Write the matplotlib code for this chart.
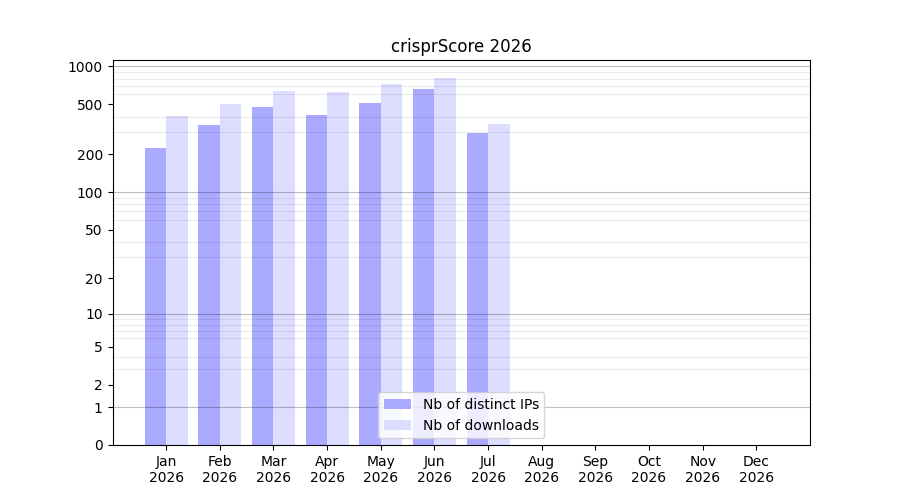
import numpy as np
import matplotlib
matplotlib.use("Agg")
import matplotlib.pyplot as plt
from matplotlib.ticker import FixedLocator, NullFormatter

months = ["Jan", "Feb", "Mar", "Apr", "May", "Jun", "Jul", "Aug", "Sep", "Oct", "Nov", "Dec"]
year = "2026"
distinct_ips = [224, 341, 474, 410, 510, 659, 295]
downloads = [403, 501, 635, 623, 721, 805, 347]
title = "crisprScore 2026"

fig, ax = plt.subplots(figsize=(9, 5), dpi=100)
ax.set_yscale("function", functions=(lambda v: np.log10(1 + np.clip(v, 0, None)),
                                     lambda v: 10 ** v - 1))

x = np.arange(len(distinct_ips))
w = 0.4
ax.bar(x - w / 2, distinct_ips, width=w, color="#aaaaff", label="Nb of distinct IPs")
ax.bar(x + w / 2, downloads, width=w, color="#ddddff", label="Nb of downloads")

ax.set_xlim(-1, 12)
ax.set_xticks(np.arange(12))
ax.set_xticklabels([f"{m}\n{year}" for m in months])

major = [0, 1, 2, 5, 10, 20, 50, 100, 200, 500, 1000]
ax.yaxis.set_major_locator(FixedLocator(major))
ax.set_yticklabels([str(v) for v in major])
minor = [m * 10 ** k for k in range(0, 3) for m in range(2, 10)]
ax.yaxis.set_minor_locator(FixedLocator(minor))
ax.yaxis.set_minor_formatter(NullFormatter())
ax.tick_params(axis="y", which="minor", length=0)
ax.grid(axis="y", which="minor", color="black", alpha=0.08, linewidth=0.8)
for d in [1, 10, 100, 1000]:
    ax.axhline(d, color="black", alpha=0.25, linewidth=0.8, zorder=1.6)

ax.set_title(title)
ax.legend(loc="lower center")
fig.savefig("out.png", dpi=100)
